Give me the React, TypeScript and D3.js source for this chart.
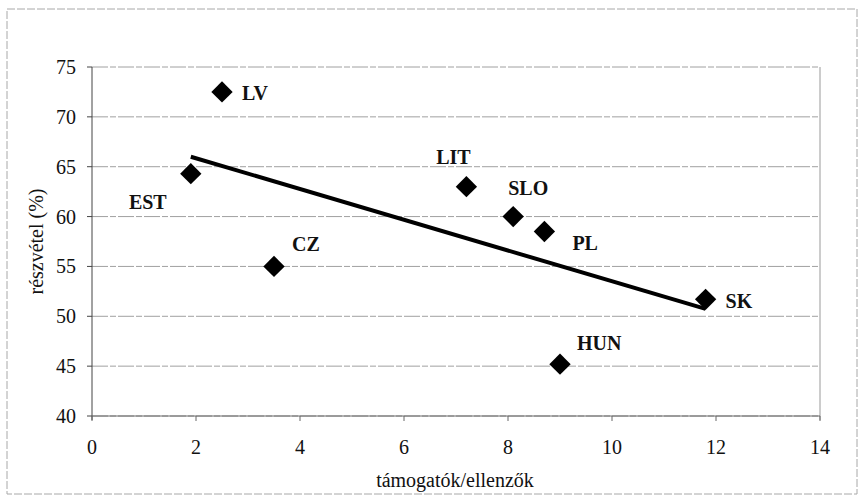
import * as d3 from "d3";

// data
const countries = ["LV", "EST", "CZ", "LIT", "SLO", "PL", "HUN", "SK"];
const ratio = [2.5, 1.9, 3.5, 7.2, 8.1, 8.7, 9.0, 11.8];
const turnout = [72.5, 64.3, 55.0, 63.0, 60.0, 58.5, 45.2, 51.7];
const xTicks = [0, 2, 4, 6, 8, 10, 12, 14];
const yTicks = [40, 45, 50, 55, 60, 65, 70, 75];

// label placement relative to the marker (layout only)
const labelPos: Record<string, { dx: number; dy: number; anchor: string }> = {
  LV: { dx: 20, dy: 1, anchor: "start" },
  EST: { dx: -43, dy: 28, anchor: "middle" },
  CZ: { dx: 18, dy: -22, anchor: "start" },
  LIT: { dx: -13, dy: -30, anchor: "middle" },
  SLO: { dx: 15, dy: -29, anchor: "middle" },
  PL: { dx: 28, dy: 11, anchor: "start" },
  HUN: { dx: 17, dy: -21, anchor: "start" },
  SK: { dx: 20, dy: 2, anchor: "start" },
};

const W = 859;
const H = 497;
const font = "'Liberation Serif', 'Times New Roman', serif";

export default function App() {
  const x = d3.scaleLinear().domain([0, 14]).range([92, 820]);
  const y = d3.scaleLinear().domain([40, 75]).range([416, 67]);

  // least squares trend line
  const mx = d3.mean(ratio)!;
  const my = d3.mean(turnout)!;
  const sxy = d3.sum(ratio, (v, i) => (v - mx) * (turnout[i] - my));
  const sxx = d3.sum(ratio, (v) => (v - mx) ** 2);
  const slope = sxy / sxx;
  const icpt = my - slope * mx;
  const [x0, x1] = d3.extent(ratio) as [number, number];
  const trend = d3.line<number>()
    .x((v) => x(v))
    .y((v) => y(icpt + slope * v))([x0, x1]);

  const diamond = d3.symbol(d3.symbolDiamond2, 290)()!;

  return (
    <svg
      width={W}
      height={H}
      style={{ position: "absolute", left: 0, top: 0, background: "#fff" }}
      fontFamily={font}
    >
      <rect x={7} y={9} width={W - 9} height={H - 12} fill="none" stroke="#a8a8a8" strokeWidth={1} strokeDasharray="8 2" />

      {/* gridlines */}
      {yTicks.map((t) => (
        <line key={t} x1={x(0)} x2={x(14)} y1={y(t)} y2={y(t)} stroke="#a0a0a0" strokeWidth={1} strokeDasharray="16 2 6 2" />
      ))}
      <line x1={x(14)} x2={x(14)} y1={y(75)} y2={y(40) + 4} stroke="#999" strokeWidth={1} />

      {/* y axis */}
      <line x1={x(0)} x2={x(0)} y1={y(75)} y2={y(40) + 4} stroke="#444" strokeWidth={1} />
      {yTicks.map((t) => (
        <g key={t}>
          <line x1={x(0) - 5} x2={x(0)} y1={y(t)} y2={y(t)} stroke="#444" />
          <text x={x(0) - 16} y={y(t)} dy="0.35em" textAnchor="end" fontSize={20} fill="#111">{t}</text>
        </g>
      ))}

      {/* x axis */}
      <line x1={x(0)} x2={x(14)} y1={y(40)} y2={y(40)} stroke="#666" strokeWidth={1} />
      {xTicks.map((t) => (
        <g key={t}>
          <line x1={x(t)} x2={x(t)} y1={y(40)} y2={y(40) + 5} stroke="#666" />
          <text x={x(t)} y={447} dy="0.35em" textAnchor="middle" fontSize={20} fill="#111">{t}</text>
        </g>
      ))}

      <text x={455} y={480} dy="0.35em" textAnchor="middle" fontSize={20} fill="#111">támogatók/ellenzők</text>
      <text transform={`translate(36,${(y(40) + y(75)) / 2}) rotate(-90)`} dy="0.35em" textAnchor="middle" fontSize={20} fill="#111">részvétel (%)</text>

      {/* trend line */}
      <path d={trend ?? ""} fill="none" stroke="#000" strokeWidth={4} />

      {/* markers and labels */}
      {countries.map((c, i) => {
        const px = x(ratio[i]);
        const py = y(turnout[i]);
        const lp = labelPos[c];
        return (
          <g key={c}>
            <path d={diamond} transform={`translate(${px},${py})`} fill="#000" />
            <text x={px + lp.dx} y={py + lp.dy} dy="0.35em" textAnchor={lp.anchor} fontSize={20} fontWeight="bold" fill="#111">{c}</text>
          </g>
        );
      })}
    </svg>
  );
}
